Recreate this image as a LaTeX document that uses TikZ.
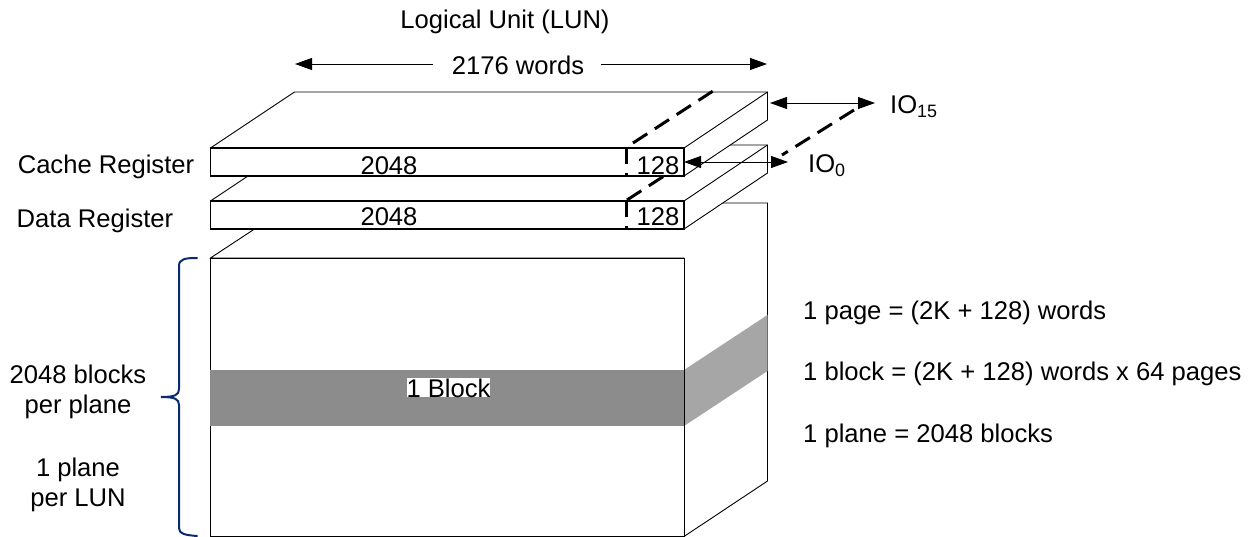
\documentclass[tikz,border=0pt]{standalone}
\usepackage{fontspec}
\setmainfont{Liberation Sans}
\usetikzlibrary{arrows.meta,calc,positioning}
\definecolor{bracecol}{RGB}{10,42,112}
\tikzset{
  slab/.style={draw=black,fill=white,line width=0.9pt,line join=miter},
  front/.style={draw=black,fill=white,line width=1.4pt},
  cut/.style={line width=3pt,dash pattern=on 17pt off 9pt},
  dim/.style={line width=0.9pt,{Triangle[length=17pt,width=12pt]}-{Triangle[length=17pt,width=12pt]}},
  dimone/.style={line width=0.9pt,-{Triangle[length=17pt,width=12pt]}},
  lbl/.style={inner sep=0pt,anchor=base,font=\fontsize{25.6}{30}\selectfont},
  lblleft/.style={lbl,anchor=base west},
  lblblock/.style={inner sep=0pt,align=center,font=\fontsize{25.6}{30}\selectfont},
}
\begin{document}
\begin{tikzpicture}[x=1pt,y=-1pt]
\useasboundingbox (0,0) rectangle (1253,537);
%plane
\draw [slab] (210.5,258) -- (294,203) -- (767.5,203) -- (767.5,481) -- (684,536.5) -- (684,258) -- cycle;
\draw [slab] (210.5,258) rectangle (684,536.5);
\fill [black!35] (684,370) -- (767.5,315) -- (767.5,371) -- (684,426) -- cycle;
\fill [black!45] (210,370) rectangle (684,426);
\draw [line width=0.9pt] (684,258) -- (684,536.5);
%registers
\foreach \ytop in {201,148} {
  \draw [slab] (210.5,\ytop) -- ++(84,-56) -- ++(473,0) -- ++(0,28) -- ++(-83.5,56) -- ++(-473.5,0) -- cycle;
  \draw [front] (210.5,\ytop) rectangle ++(473.5,28);
  \draw [line width=0.9pt] (684,\ytop) -- ++(83.5,-56);
}
\draw [cut] (626,147) -- (626,176);
\draw [cut] (633,143) -- (713,91);
\draw [cut] (626,200) -- (626,229);
\draw [cut] (627,200) -- (664,176);
\draw [cut] (854,110) -- (782,155);
\node [lbl] (logical) at (505,28.5) {Logical Unit (LUN)};
\node [lbl] (words) at (518,75) {2176 words};
\coordinate (wordsl) at (295,64);
\coordinate (wordsr) at (767,64);
\draw [dimone] ($(words.base west)+(-19,-11)$) -- (wordsl);
\draw [dimone] ($(words.base east)+(17,-11)$) -- (wordsr);
\node [lbl] (cachelbl) at (106,173.5) {Cache Register};
\node [lbl] (datalbl) at (95,228) {Data Register};
\node [lbl] (cachemain) at (389,175) {2048};
\node [lbl] (cachespare) at (658,175) {128};
\node [lbl] (datamain) at (389,226) {2048};
\node [lbl] (dataspare) at (658,226) {128};
\node [lbl,fill=white] (block) at (448.5,397) {1 Block};
%io lines
\coordinate (iohia) at (770,103);
\coordinate (iohib) at (875,103);
\coordinate (ioloa) at (684,162);
\coordinate (iolob) at (788,162);
\draw [dim] (iohia) -- (iohib);
\draw [dim] (ioloa) -- (iolob);
\node [lblleft] (iohi) at (890,114) {IO\textsubscript{15}};
\node [lblleft] (iolo) at (808,173) {IO\textsubscript{0}};
%brace
\draw [draw=bracecol,line width=2pt,line cap=round]
  (197,258) .. controls (185,258) and (179,259) .. (179,266)
  -- (179,389) .. controls (179,395) and (175,397) .. (161,397)
  .. controls (175,397) and (179,399) .. (179,405)
  -- (179,528) .. controls (179,534) and (185,535) .. (197,536);
\node [lblblock] (blocks) at (78,392) {2048 blocks\\per plane};
\node [lblblock] (planes) at (78,485) {1 plane\\per LUN};
\node [lblleft] (pagetxt) at (803,319.5) {1 page = (2K + 128) words};
\node [lblleft] (blocktxt) at (803,380.5) {1 block = (2K + 128) words x 64 pages};
\node [lblleft] (planetxt) at (803,442.5) {1 plane = 2048 blocks};
\end{tikzpicture}
\end{document}
